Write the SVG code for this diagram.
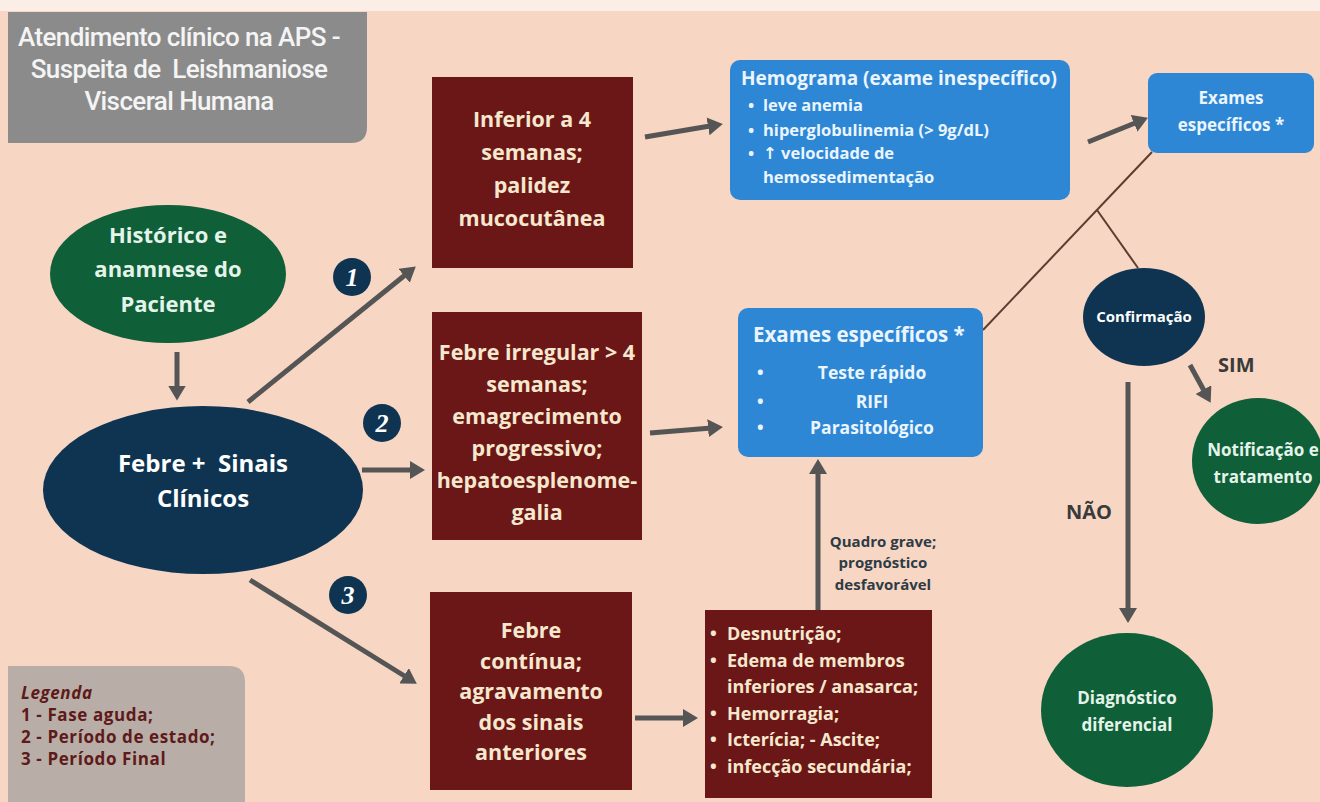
<svg xmlns="http://www.w3.org/2000/svg" width="1320" height="802" viewBox="0 0 1320 802">
<style>
.t{font-family:"Open Sans","DejaVu Sans",sans-serif;font-weight:bold;}
.red{fill:#6B1717;}
.blue{fill:#2E87D4;}
.navy{fill:#0E3452;}
.green{fill:#0F5F38;}
.cream{fill:#F6E8CE;}
.wh{fill:#FFFFFF;}
.bw{fill:#EAF5FF;}
.mint{fill:#E4F4EA;}
.arr{stroke:#555555;stroke-width:5;fill:none;marker-end:url(#ah);}
.ln{stroke:#5C3D30;stroke-width:2;fill:none;}
</style>
<defs>
<marker id="ah" markerUnits="userSpaceOnUse" markerWidth="16" markerHeight="18" refX="0.5" refY="9" orient="auto">
<path d="M0,0 L15,9 L0,18 z" fill="#555555"/>
</marker>
</defs>
<rect x="0" y="0" width="1320" height="802" fill="#F7D6C4"/>
<rect x="0" y="0" width="1320" height="11" fill="#FBEEE7"/>

<g id="title">
<path d="M8,12 H367 V127 Q367,143 351,143 H8 Z" fill="#8B8B8B"/>
<g font-family="Roboto,'Liberation Sans',Arial,sans-serif" font-weight="500" font-size="26" letter-spacing="-0.6" fill="#F4F4F4" text-anchor="middle">
<text x="179" y="46">Atendimento clínico na APS -</text>
<text x="179" y="78">Suspeita de&#160; Leishmaniose</text>
<text x="179" y="110">Visceral Humana</text>
</g>
</g>

<g id="connectors">
<line class="arr" x1="177" y1="352" x2="177" y2="386"/>
<line class="arr" x1="248" y1="402" x2="404.5" y2="275.5"/>
<line class="arr" x1="362" y1="470" x2="410.5" y2="470"/>
<line class="arr" x1="250" y1="580" x2="404.5" y2="676"/>
<line class="arr" x1="645" y1="137" x2="708.5" y2="126.3"/>
<line class="arr" x1="650" y1="433" x2="708.5" y2="428.2"/>
<line class="arr" x1="1088" y1="142" x2="1134.5" y2="123.2"/>
<line class="arr" x1="635" y1="718" x2="683.5" y2="718"/>
<line class="arr" x1="818" y1="610" x2="818" y2="473.5"/>
<line class="arr" x1="1190" y1="365" x2="1203.7" y2="390"/>
<line class="arr" x1="1128" y1="382" x2="1128" y2="608.5"/>
<line class="ln" x1="983" y1="330" x2="1152" y2="152"/>
<line class="ln" x1="1097" y1="210" x2="1138" y2="268"/>
</g>

<g id="badges" font-family="'Liberation Serif',serif" font-style="italic" font-weight="bold" font-size="26" text-anchor="middle" fill="#FFFFFF">
<circle cx="352" cy="277" r="19" class="navy"/>
<text x="352" y="286">1</text>
<circle cx="382" cy="423" r="19" class="navy"/>
<text x="382" y="432">2</text>
<circle cx="348" cy="595" r="19" class="navy"/>
<text x="348" y="604">3</text>
</g>

<g id="historico">
<ellipse cx="168" cy="274" rx="118" ry="69" class="green"/>
<g class="t mint" font-size="22" text-anchor="middle">
<text x="168" y="243">Histórico e</text>
<text x="168" y="277">anamnese do</text>
<text x="168" y="312">Paciente</text>
</g>
</g>

<g id="febre">
<ellipse cx="203" cy="490" rx="160" ry="84" class="navy"/>
<g class="t wh" font-size="24" text-anchor="middle">
<text x="203" y="472">Febre +&#160; Sinais</text>
<text x="203" y="507">Clínicos</text>
</g>
</g>

<g id="fase1">
<rect x="432" y="77" width="201" height="191" class="red"/>
<g class="t cream" font-size="21.5" text-anchor="middle">
<text x="532" y="127">Inferior a 4</text>
<text x="532" y="160">semanas;</text>
<text x="532" y="193">palidez</text>
<text x="532" y="226">mucocutânea</text>
</g>
</g>

<g id="fase2">
<rect x="432" y="312" width="210" height="228" class="red"/>
<g class="t cream" font-size="21.5" text-anchor="middle">
<text x="537" y="360">Febre irregular &gt; 4</text>
<text x="537" y="392">semanas;</text>
<text x="537" y="424">emagrecimento</text>
<text x="537" y="456">progressivo;</text>
<text x="537" y="488">hepatoesplenome-</text>
<text x="537" y="520">galia</text>
</g>
</g>

<g id="fase3">
<rect x="430" y="592" width="202" height="198" class="red"/>
<g class="t cream" font-size="21.5" text-anchor="middle">
<text x="531" y="638">Febre</text>
<text x="531" y="668.5">contínua;</text>
<text x="531" y="699">agravamento</text>
<text x="531" y="729.5">dos sinais</text>
<text x="531" y="760">anteriores</text>
</g>
</g>

<g id="sintomas">
<rect x="705" y="610" width="227" height="188" class="red"/>
<g class="t cream" font-size="18">
<text x="710" y="640">•</text><text x="727" y="640">Desnutrição;</text>
<text x="710" y="666.5">•</text><text x="727" y="666.5">Edema de membros</text>
<text x="727" y="693">inferiores / anasarca;</text>
<text x="710" y="719.5">•</text><text x="727" y="719.5">Hemorragia;</text>
<text x="710" y="746">•</text><text x="727" y="746">Icterícia; - Ascite;</text>
<text x="710" y="772.5">•</text><text x="727" y="772.5">infecção secundária;</text>
</g>
</g>

<g id="quadro" class="t" font-size="15" fill="#2E3B44" text-anchor="middle">
<text x="883" y="547">Quadro grave;</text>
<text x="883" y="568">prognóstico</text>
<text x="883" y="590">desfavorável</text>
</g>

<g id="hemograma">
<rect x="730" y="60" width="340" height="140" rx="10" class="blue"/>
<g class="t bw">
<text x="741" y="85" font-size="19">Hemograma (exame inespecífico)</text>
<g font-size="16.5">
<text x="748" y="111">•</text><text x="763" y="111">leve anemia</text>
<text x="748" y="136">•</text><text x="763" y="136">hiperglobulinemia (&gt; 9g/dL)</text>
<text x="748" y="159">•</text><text x="763" y="159">↑ velocidade de</text>
<text x="763" y="183">hemossedimentação</text>
</g>
</g>
</g>

<g id="exames-topo">
<rect x="1148" y="73" width="166" height="80" rx="9" class="blue"/>
<g class="t bw" font-size="17" text-anchor="middle">
<text x="1231" y="104">Exames</text>
<text x="1231" y="131">específicos *</text>
</g>
</g>

<g id="exames-meio">
<rect x="738" y="308" width="245" height="149" rx="10" class="blue"/>
<g class="t bw">
<text x="753" y="342" font-size="20.5">Exames específicos *</text>
<g font-size="17.5">
<text x="757" y="379">•</text><text x="872" y="379" text-anchor="middle">Teste rápido</text>
<text x="757" y="408">•</text><text x="872" y="408" text-anchor="middle">RIFI</text>
<text x="757" y="434">•</text><text x="872" y="434" text-anchor="middle">Parasitológico</text>
</g>
</g>
</g>

<g id="confirmacao">
<ellipse cx="1144" cy="317" rx="61" ry="49" class="navy"/>
<text x="1144" y="322" class="t wh" font-size="15" text-anchor="middle">Confirmação</text>
</g>

<g id="labels" class="t" font-size="20" fill="#3A3A3A">
<text x="1218" y="372">SIM</text>
<text x="1066" y="519">NÃO</text>
</g>

<g id="notificacao">
<ellipse cx="1258" cy="461" rx="66" ry="63" class="green"/>
<g class="t mint" font-size="17" text-anchor="middle">
<text x="1263" y="456">Notificação e</text>
<text x="1263" y="483">tratamento</text>
</g>
</g>

<g id="diagnostico">
<ellipse cx="1127" cy="710" rx="86" ry="77" class="green"/>
<g class="t mint" font-size="17" text-anchor="middle">
<text x="1127" y="704">Diagnóstico</text>
<text x="1127" y="731">diferencial</text>
</g>
</g>

<g id="legenda">
<path d="M8,666 H229 Q245,666 245,682 V802 H8 Z" fill="#B8AEA7"/>
<g class="t" font-size="17" letter-spacing="0.6" fill="#5E1A1A">
<text x="21" y="699" font-style="italic">Legenda</text>
<text x="21" y="721">1 - Fase aguda;</text>
<text x="21" y="743">2 - Período de estado;</text>
<text x="21" y="765">3 - Período Final</text>
</g>
</g>
</svg>
